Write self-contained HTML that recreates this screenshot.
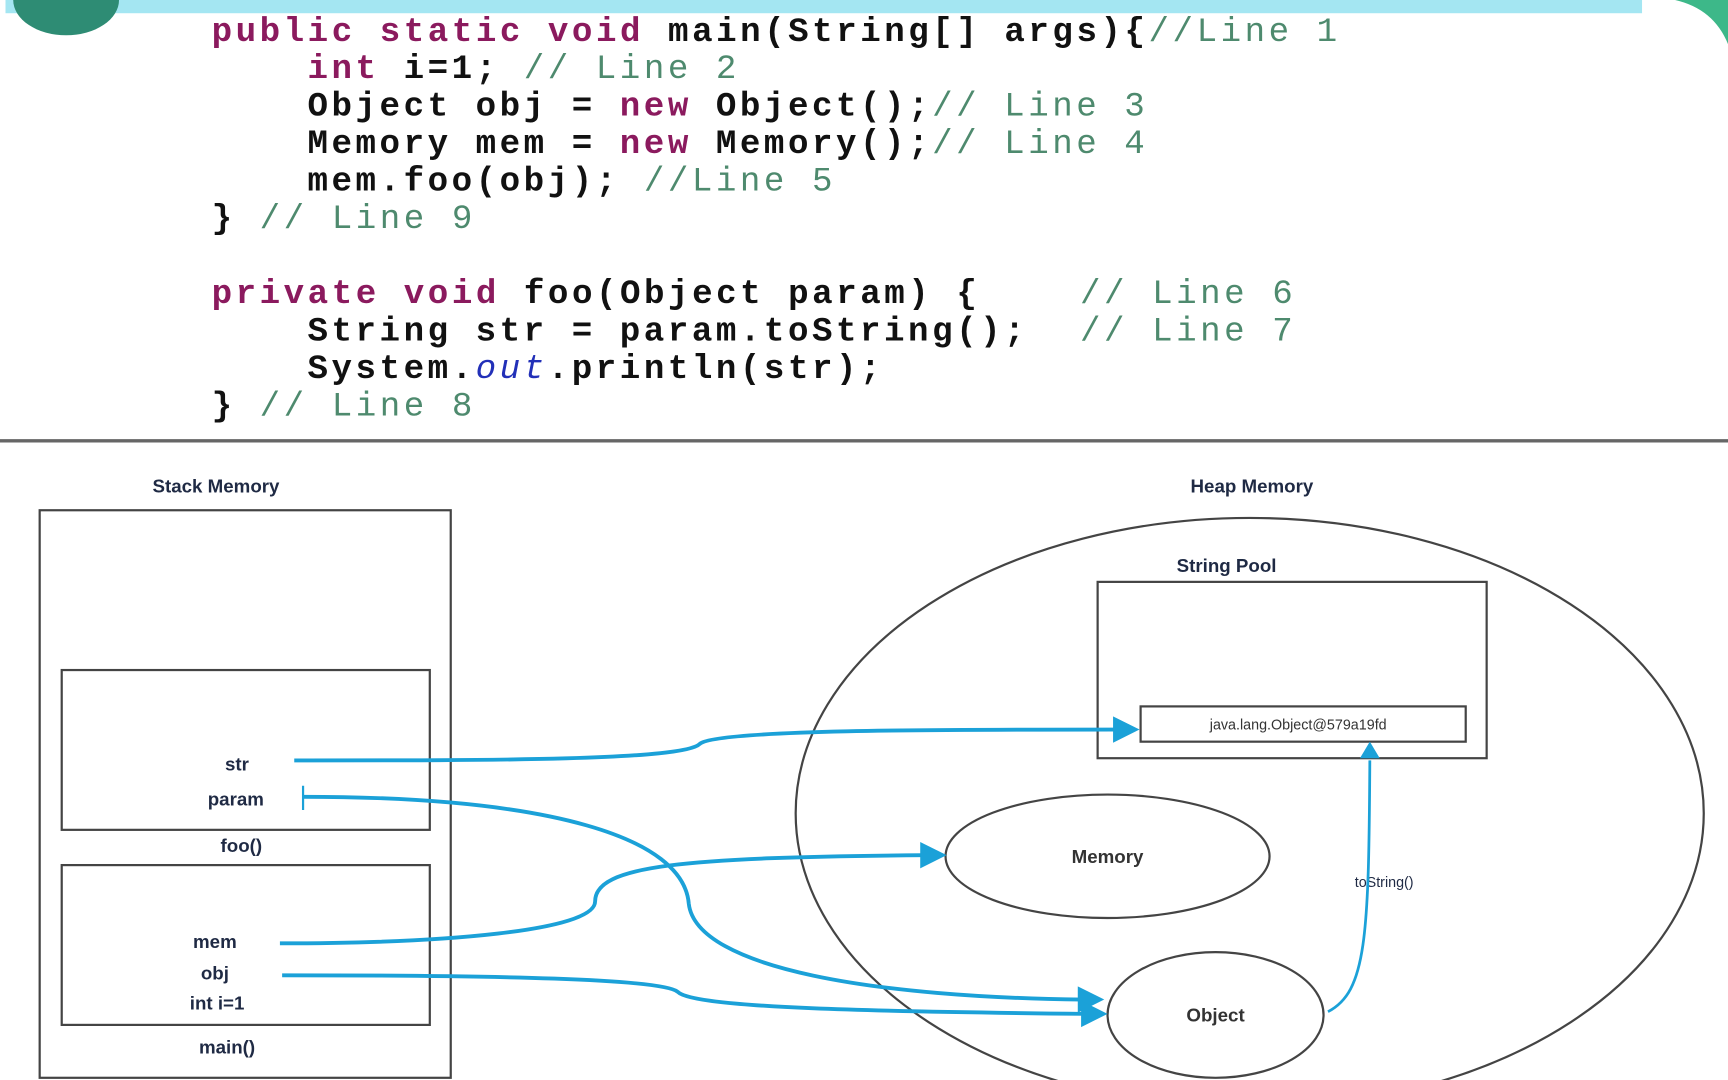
<!DOCTYPE html>
<html><head><meta charset="utf-8"><style>
html,body{margin:0;padding:0;background:#fff;width:1728px;height:1080px;overflow:hidden}
svg{display:block}
.c{font-family:"Liberation Mono",monospace;font-size:31px;font-weight:bold;letter-spacing:3.2px;fill:#111;white-space:pre}
.k{fill:#8b1a5e}.g{fill:#4e8a6e;font-weight:normal}.o{fill:#2230b8;font-style:italic;font-weight:normal}
.l{font-family:"Liberation Sans",sans-serif;font-weight:bold;font-size:17px;fill:#1f2a44;text-anchor:middle}
.s{font-family:"Liberation Sans",sans-serif;font-size:13px;fill:#333;text-anchor:middle}
</style></head><body>
<svg width="1728" height="1080" viewBox="0 0 1568 980" xmlns="http://www.w3.org/2000/svg">
<rect x="0" y="0" width="1568" height="980" fill="#fff"/>
<rect x="5" y="0" width="1485" height="12" fill="#a4e6f2"/>
<ellipse cx="60" cy="0" rx="48" ry="32" fill="#2e8c74"/>
<path d="M1520 0 Q1555 8 1568 40 L1568 0 Z" fill="#3db889"/>
<g class="c">
<text x="192" y="37"><tspan class="k">public static void</tspan> main(String[] args){<tspan class="g">//Line 1</tspan></text>
<text x="279" y="71"><tspan class="k">int</tspan> i=1; <tspan class="g">// Line 2</tspan></text>
<text x="279" y="105">Object obj = <tspan class="k">new</tspan> Object();<tspan class="g">// Line 3</tspan></text>
<text x="279" y="139">Memory mem = <tspan class="k">new</tspan> Memory();<tspan class="g">// Line 4</tspan></text>
<text x="279" y="173">mem.foo(obj); <tspan class="g">//Line 5</tspan></text>
<text x="192" y="207">} <tspan class="g">// Line 9</tspan></text>
<text x="192" y="275"><tspan class="k">private void</tspan> foo(Object param) {</text>
<text x="980" y="275" class="g">// Line 6</text>
<text x="279" y="309">String str = param.toString();</text>
<text x="980" y="309" class="g">// Line 7</text>
<text x="279" y="343">System.<tspan class="o">out</tspan>.println(str);</text>
<text x="192" y="377">} <tspan class="g">// Line 8</tspan></text>
</g>
<line x1="0" y1="400" x2="1568" y2="400" stroke="#666" stroke-width="3"/>
<g fill="none" stroke="#444" stroke-width="2">
<rect x="36" y="463" width="373" height="515"/>
<rect x="56" y="608" width="334" height="145"/>
<rect x="56" y="785" width="334" height="145"/>
<ellipse cx="1134" cy="738" rx="412" ry="268"/>
<rect x="996" y="528" width="353" height="160"/>
<rect x="1035" y="641" width="295" height="32"/>
<ellipse cx="1005" cy="777" rx="147" ry="56"/>
<ellipse cx="1103" cy="921" rx="98" ry="57"/>
</g>
<text class="l" x="196" y="447">Stack Memory</text>
<text class="l" x="1136" y="447">Heap Memory</text>
<text class="l" x="1113" y="519">String Pool</text>
<text class="l" x="215" y="699">str</text>
<text class="l" x="214" y="731">param</text>
<text class="l" x="219" y="773">foo()</text>
<text class="l" x="195" y="860">mem</text>
<text class="l" x="195" y="889">obj</text>
<text class="l" x="197" y="916">int i=1</text>
<text class="l" x="206" y="956">main()</text>
<text class="l" x="1005" y="783" style="fill:#333">Memory</text>
<text class="l" x="1103" y="927" style="fill:#333">Object</text>
<text class="s" x="1178" y="662">java.lang.Object@579a19fd</text>
<text class="s" x="1256" y="805" style="fill:#1f2a44">toString()</text>
<g fill="none" stroke="#1ba1d8" stroke-width="3.5">
<path d="M267 690 C450 690 620 690 635 675 C650 662 850 662 1012 662"/>
<path d="M275 723 C500 723 620 760 625 820 C632 880 800 905 982 907"/>
<line x1="275" y1="713" x2="275" y2="735" stroke-width="2"/>
<path d="M254 856 C400 856 540 845 540 818 C540 785 620 778 838 776"/>
<path d="M256 885 C450 885 600 888 615 900 C630 915 800 918 985 920"/>
<path d="M1205 918 C1240 900 1242 850 1243 690" stroke-width="2.5"/>
</g>
<g fill="#1ba1d8">
<polygon points="1034,662 1010,650 1010,674"/>
<polygon points="1002,907 978,895 978,919"/>
<polygon points="859,776 835,764 835,788"/>
<polygon points="1005,920 981,908 981,932"/>
<polygon points="1243,673 1234,688 1252,688"/>
</g>
</svg>
</body></html>
